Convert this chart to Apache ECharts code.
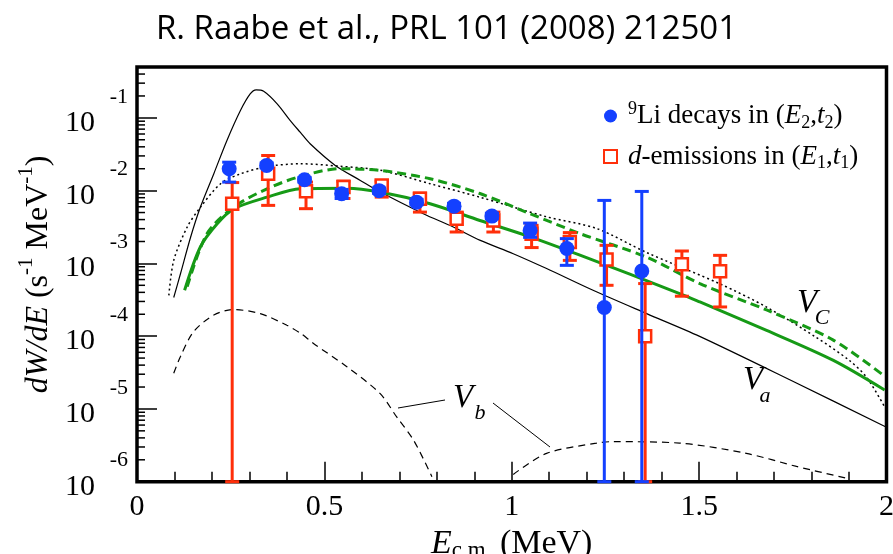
<!DOCTYPE html>
<html>
<head>
<meta charset="utf-8">
<title>dW/dE vs Ecm</title>
<script src="https://cdn.jsdelivr.net/npm/echarts@6/dist/echarts.min.js"></script>
<style>
  html, body { margin: 0; padding: 0; background: #fff; }
  #main { width: 893px; height: 554px; }
</style>
</head>
<body>
<div id="main"></div>
<script>
// 9Li decays (blue circles): E_cm (MeV), dW/dE and error limits
var liX  = [0.246, 0.346, 0.447, 0.546, 0.646, 0.746, 0.846, 0.947, 1.049, 1.147, 1.247, 1.347];
var liY  = [0.0200, 0.0222, 0.0141, 0.00906, 0.0100, 0.00695, 0.00612, 0.00447, 0.00284, 0.00160, 0.000248, 0.000787];
var liLo = [0.0131, 0.0205, 0.0131, 0.0078, 0.0092, 0.0064, 0.0056, 0.0041, 0.00228, 0.00094, 1e-6, 1e-6];
var liHi = [0.0246, 0.0240, 0.0152, 0.0104, 0.0109, 0.0076, 0.0067, 0.0049, 0.00358, 0.00219, 0.00734, 0.00975];

// d-emissions (red open squares)
var dX  = [0.254, 0.350, 0.451, 0.551, 0.653, 0.755, 0.853, 0.951, 1.053, 1.155, 1.253, 1.356, 1.454, 1.556];
var dY  = [0.0066, 0.0171, 0.00984, 0.0112, 0.0118, 0.00774, 0.00412, 0.00390, 0.00256, 0.00197, 0.00113, 0.000100, 0.00097, 0.00078];
var dLo = [1e-6, 0.00627, 0.00565, 0.0078, 0.00815, 0.00507, 0.0027, 0.0027, 0.00165, 0.0011, 0.00050, 1e-6, 0.000354, 0.000252];
var dHi = [0.0129, 0.0304, 0.0131, 0.0135, 0.0135, 0.00925, 0.00507, 0.00507, 0.00333, 0.00265, 0.00177, 0.000528, 0.00148, 0.00129];

// V_a (thin black solid)
var vaX = [0.098, 0.116, 0.143, 0.169, 0.205, 0.240, 0.276, 0.302, 0.318, 0.338, 0.374, 0.409, 0.436, 0.462, 0.529, 0.596, 0.649, 0.764, 0.844, 0.916, 1.004, 1.093, 1.217, 1.360, 1.500, 1.750, 2.000];
var vaY = [3.4e-4, 7.2e-4, 2.29e-3, 5.9e-3, 0.0171, 0.0489, 0.126, 0.213, 0.242, 0.232, 0.156, 0.0918, 0.063, 0.044, 0.0222, 0.0138, 0.00955, 0.00482, 0.00316, 0.00207, 0.00136, 8.5e-4, 4.27e-4, 2.04e-4, 1.0e-4, 2.4e-5, 5.6e-6];

// V_c (black dotted)
var vcX = [0.085, 0.098, 0.134, 0.169, 0.223, 0.276, 0.347, 0.436, 0.542, 0.649, 0.782, 0.915, 1.093, 1.226, 1.360, 1.555, 1.680, 1.810, 1.900, 1.946, 1.995];
var vcY = [3.63e-4, 1.10e-3, 3.16e-3, 5.89e-3, 0.01245, 0.0170, 0.0214, 0.0234, 0.0216, 0.0191, 0.01245, 0.00813, 0.00437, 0.00302, 0.00141, 5.25e-4, 2.51e-4, 9.8e-5, 4.68e-5, 2.75e-5, 1.07e-5];

// green solid
var gsX = [0.127, 0.169, 0.214, 0.258, 0.347, 0.436, 0.560, 0.649, 0.782, 0.915, 1.049, 1.182, 1.448, 1.502, 1.680, 1.857, 1.995];
var gsY = [4.27e-4, 1.68e-3, 3.51e-3, 5.62e-3, 8.13e-3, 0.0106, 0.0108, 0.00955, 0.0066, 0.00389, 0.00232, 0.0013, 3.85e-4, 2.95e-4, 1.2e-4, 4.68e-5, 1.82e-5];

// green dashed
var gdX = [0.134, 0.187, 0.258, 0.347, 0.436, 0.542, 0.649, 0.782, 0.915, 1.049, 1.182, 1.360, 1.502, 1.680, 1.857, 1.995];
var gdY = [4.79e-4, 2.57e-3, 5.94e-3, 0.0106, 0.0157, 0.0200, 0.0189, 0.01456, 0.00912, 0.00482, 2.57e-3, 1.22e-3, 5.28e-4, 2.29e-4, 8.9e-5, 2.82e-5];

// V_b (black dashed, two pieces)
var vbX1 = [0.098, 0.116, 0.151, 0.205, 0.258, 0.329, 0.400, 0.436, 0.471, 0.560, 0.649, 0.693, 0.738, 0.787];
var vbY1 = [3.09e-5, 5.25e-5, 1.15e-4, 1.95e-4, 2.32e-4, 2.04e-4, 1.41e-4, 1.10e-4, 7.94e-5, 3.8e-5, 1.62e-5, 7.76e-6, 3.72e-6, 1.17e-6];
var vbX2 = [1.004, 1.093, 1.226, 1.270, 1.448, 1.626, 1.760, 1.893];
var vbY2 = [1.26e-6, 2.45e-6, 3.39e-6, 3.55e-6, 3.39e-6, 2.45e-6, 1.62e-6, 1.12e-6];

// axis
var xTicks = [0, 0.5, 1, 1.5, 2];
var yDecades = [1e-6, 1e-5, 1e-4, 1e-3, 1e-2, 1e-1];
var yMinorMult = [2, 3, 4, 5, 6, 7, 8, 9];

var liName = '9Li decays in (E2,t2)';
var dName = 'd-emissions in (E1,t1)';

var serif = '"Liberation Serif", "DejaVu Serif", serif';
var blue = '#1440ff';
var red = '#ff2f0a';
var green = '#169a16';

function pairs(xs, ys) {
  return xs.map(function (x, i) { return [x, ys[i]]; });
}
function bars(xs, lo, hi) {
  return xs.map(function (x, i) { return [x, lo[i], hi[i]]; });
}

// minor ticks of the log axis (2..9 x 10^k)
var yMinor = [];
yDecades.forEach(function (d) {
  yMinorMult.forEach(function (m) {
    if (m * d < 0.5) yMinor.push([0, m * d]);
  });
});

function errorBar(color) {
  return function (params, api) {
    var top = api.coord([api.value(0), api.value(2)]);
    var bot = api.coord([api.value(0), api.value(1)]);
    var w = 7;
    var st = { stroke: color, lineWidth: 3 };
    return {
      type: 'group',
      children: [
        { type: 'line', shape: { x1: top[0], y1: top[1], x2: bot[0], y2: bot[1] }, style: st },
        { type: 'line', shape: { x1: top[0] - w, y1: top[1], x2: top[0] + w, y2: top[1] }, style: st },
        { type: 'line', shape: { x1: bot[0] - w, y1: bot[1], x2: bot[0] + w, y2: bot[1] }, style: st }
      ]
    };
  };
}

function minorTick(params, api) {
  var p = api.coord([api.value(0), api.value(1)]);
  return {
    type: 'line',
    shape: { x1: p[0], y1: p[1], x2: p[0] + 8, y2: p[1] },
    style: { stroke: '#000', lineWidth: 1.5 }
  };
}

function curve(name, xs, ys, color, width, type) {
  return {
    name: name,
    type: 'line',
    data: pairs(xs, ys),
    showSymbol: false,
    smooth: 0.3,
    lineStyle: { color: color, width: width, type: type },
    silent: true,
    z: 2
  };
}

var chart = echarts.init(document.getElementById('main'));

var option = {
  animation: false,
  backgroundColor: '#fff',
  title: {
    text: 'R. Raabe et al., PRL 101 (2008) 212501',
    left: 'center',
    top: 8,
    textStyle: { fontFamily: '"Open Sans", sans-serif', fontSize: 33, fontWeight: 'normal', color: '#000' }
  },
  grid: {
    left: 137, right: 6.5, top: 67, bottom: 72.3,
    outerBoundsMode: 'none',
    containLabel: false,
    show: true, borderColor: '#000', borderWidth: 3.5, backgroundColor: 'transparent'
  },
  legend: {
    data: [liName, dName],
    orient: 'vertical',
    left: 598,
    top: 95,
    itemGap: 11,
    itemWidth: 13,
    itemHeight: 13,
    formatter: function (name) {
      if (name === liName) {
        return '{sup|9}{n|Li decays in (}{i|E}{sub|2}{n|,}{i|t}{sub|2}{n|)}';
      }
      return '{i|d}{n|-emissions in (}{i|E}{sub|1}{n|,}{i|t}{sub|1}{n|)}';
    },
    textStyle: {
      fontFamily: serif, fontSize: 27, color: '#000', padding: [0, 0, 0, 6],
      rich: {
        n: { fontFamily: serif, fontSize: 27, lineHeight: 32, color: '#000' },
        i: { fontFamily: serif, fontSize: 27, fontStyle: 'italic', lineHeight: 32, color: '#000' },
        sup: { fontFamily: serif, fontSize: 18, lineHeight: 8, verticalAlign: 'top', color: '#000' },
        sub: { fontFamily: serif, fontSize: 18, lineHeight: 6, verticalAlign: 'bottom', color: '#000' }
      }
    }
  },
  xAxis: {
    type: 'value',
    min: 0,
    max: 2,
    interval: 0.5,
    name: '{i|E}{sub|c.m.}{n| (MeV)}',
    nameLocation: 'middle',
    nameGap: 42,
    nameTextStyle: {
      rich: {
        i: { fontFamily: serif, fontSize: 34, fontStyle: 'italic', lineHeight: 38, color: '#000' },
        n: { fontFamily: serif, fontSize: 34, lineHeight: 38, color: '#000' },
        sub: { fontFamily: serif, fontSize: 23, lineHeight: 2, verticalAlign: 'bottom', color: '#000' }
      }
    },
    axisLine: { show: false },
    axisTick: { inside: true, length: 20, lineStyle: { color: '#000', width: 1.5 } },
    minorTick: { show: true, splitNumber: 5, length: 10, lineStyle: { color: '#000', width: 1.5 } },
    splitLine: { show: false },
    axisLabel: {
      margin: 10,
      fontFamily: serif, fontSize: 30, color: '#000',
      formatter: function (v) { return xTicks.indexOf(v) >= 0 ? String(v) : ''; }
    }
  },
  yAxis: {
    type: 'log',
    logBase: 10,
    min: 1e-6,
    max: 0.5,
    interval: 1,
    name: '{i|dW/dE}{n| (s}{sup|-1}{n| MeV}{sup|-1}{n|)}',
    nameLocation: 'middle',
    nameRotate: 90,
    nameGap: 76,
    nameTextStyle: {
      rich: {
        i: { fontFamily: serif, fontSize: 32, fontStyle: 'italic', lineHeight: 44, color: '#000' },
        n: { fontFamily: serif, fontSize: 32, lineHeight: 44, color: '#000' },
        sup: { fontFamily: serif, fontSize: 21, lineHeight: 8, verticalAlign: 'top', color: '#000' }
      }
    },
    axisLine: { show: false },
    axisTick: { inside: true, length: 20, lineStyle: { color: '#000', width: 1.5 } },
    splitLine: { show: false },
    axisLabel: {
      margin: 9,
      formatter: function (v) {
        var l = Math.log10(v);
        var e = Math.round(l);
        if (Math.abs(l - e) > 1e-6) return '';
        return '{e|' + e + '}\n{b|10}';
      },
      rich: {
        e: { fontFamily: serif, fontSize: 22, lineHeight: 10, color: '#000' },
        b: { fontFamily: serif, fontSize: 30, lineHeight: 42, padding: [0, 33, 0, 0], color: '#000' }
      }
    }
  },
  series: [
    {
      name: 'yMinor',
      type: 'custom',
      renderItem: minorTick,
      data: yMinor,
      encode: { x: 0, y: 1 },
      silent: true,
      z: 1
    },
    curve('Vb1', vbX1, vbY1, '#000', 1.2, [7, 5]),
    curve('Vb2', vbX2, vbY2, '#000', 1.2, [7, 5]),
    curve('Va', vaX, vaY, '#000', 1.2, 'solid'),
    curve('Vc', vcX, vcY, '#000', 1.5, [2, 3]),
    curve('green', gsX, gsY, green, 3, 'solid'),
    curve('greenDashed', gdX, gdY, green, 3, [9, 5]),
    {
      name: 'dErr',
      type: 'custom',
      renderItem: errorBar(red),
      data: bars(dX, dLo, dHi),
      encode: { x: 0, y: [1, 2] },
      silent: true,
      z: 3
    },
    {
      name: dName,
      type: 'scatter',
      data: pairs(dX, dY),
      symbol: 'rect',
      symbolSize: 12,
      itemStyle: { color: '#fff', borderColor: red, borderWidth: 2.5, opacity: 1 },
      z: 4
    },
    {
      name: 'liErr',
      type: 'custom',
      renderItem: errorBar(blue),
      data: bars(liX, liLo, liHi),
      encode: { x: 0, y: [1, 2] },
      silent: true,
      z: 5
    },
    {
      name: liName,
      type: 'scatter',
      data: pairs(liX, liY),
      symbol: 'circle',
      symbolSize: 15,
      itemStyle: { color: blue, opacity: 1 },
      z: 6
    }
  ],
  graphic: [
    { type: 'text', style: { text: 'V', x: 807, y: 303, font: 'italic 33px "Liberation Serif"', fill: '#000', align: 'center', verticalAlign: 'middle' } },
    { type: 'text', style: { text: 'C', x: 822, y: 318, font: 'italic 22px "Liberation Serif"', fill: '#000', align: 'center', verticalAlign: 'middle' } },
    { type: 'text', style: { text: 'V', x: 753, y: 380, font: 'italic 33px "Liberation Serif"', fill: '#000', align: 'center', verticalAlign: 'middle' } },
    { type: 'text', style: { text: 'a', x: 765, y: 396, font: 'italic 22px "Liberation Serif"', fill: '#000', align: 'center', verticalAlign: 'middle' } },
    { type: 'text', style: { text: 'V', x: 463, y: 398, font: 'italic 33px "Liberation Serif"', fill: '#000', align: 'center', verticalAlign: 'middle' } },
    { type: 'text', style: { text: 'b', x: 480, y: 413, font: 'italic 22px "Liberation Serif"', fill: '#000', align: 'center', verticalAlign: 'middle' } },
    { type: 'line', shape: { x1: 398, y1: 408, x2: 445, y2: 400 }, style: { stroke: '#000', lineWidth: 1 } },
    { type: 'line', shape: { x1: 493, y1: 403, x2: 550, y2: 447 }, style: { stroke: '#000', lineWidth: 1 } }
  ]
};

chart.setOption(option);
</script>
</body>
</html>
